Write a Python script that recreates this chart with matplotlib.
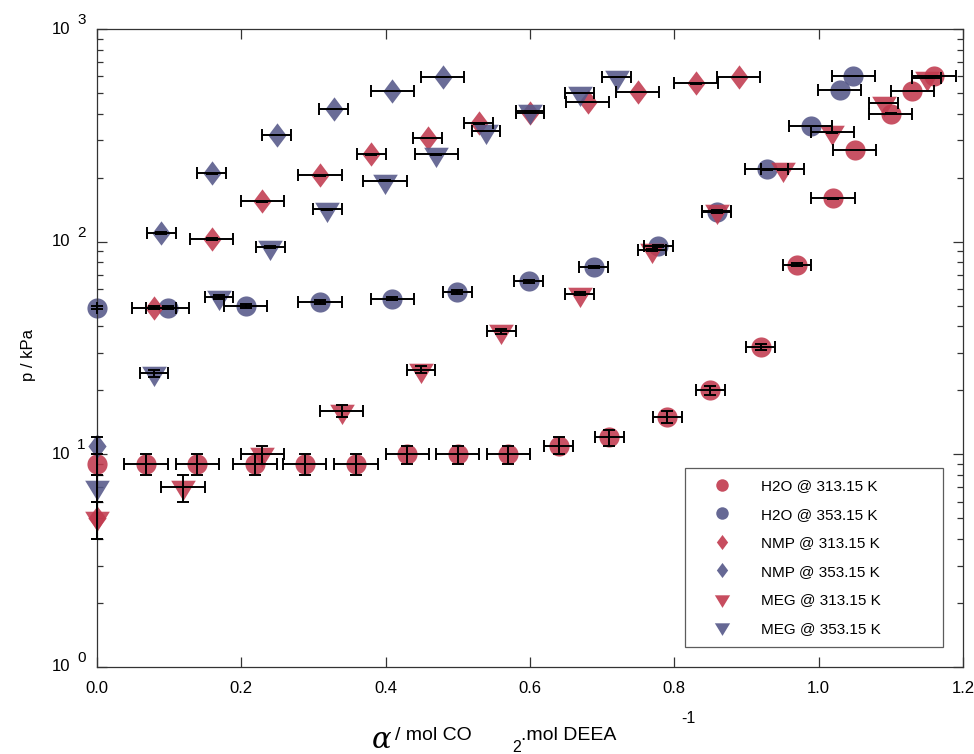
import numpy as np
import matplotlib
matplotlib.use("Agg")
import matplotlib.pyplot as plt
from matplotlib.ticker import FixedLocator, LogLocator, NullFormatter

plt.rcParams['font.family'] = ['Liberation Sans', 'DejaVu Sans']

# ------------ data ------------
h2o_313_x = [0.0, 0.068, 0.139, 0.219, 0.288, 0.359, 0.43, 0.50, 0.57, 0.64,
             0.71, 0.79, 0.85, 0.92, 0.97, 1.02, 1.05, 1.10, 1.13, 1.16]
h2o_313_y = [9, 9, 9, 9, 9, 9, 10, 10, 10, 11, 12, 15, 20, 32, 78, 160, 270, 400, 510, 600]
h2o_313_xerr = [0, .03, .03, .03, .03, .03, .03, .03, .03, .02,
                .02, .02, .02, .02, .02, .03, .03, .03, .03, .03]

h2o_353_x = [0.0, 0.098, 0.206, 0.309, 0.409, 0.499, 0.598, 0.688, 0.778, 0.859,
             0.928, 0.989, 1.029, 1.048]
h2o_353_y = [49, 49, 50, 52, 54, 58, 65, 76, 95, 138, 219, 350, 515, 600]
h2o_353_xerr = [0, .03, .03, .03, .03, .02, .02, .02, .02, .02, .03, .03, .03, .03]

nmp_313_x = [0.0, 0.079, 0.159, 0.229, 0.309, 0.380, 0.458, 0.529, 0.600, 0.680,
             0.749, 0.830, 0.889]
nmp_313_y = [5, 49, 103, 155, 205, 258, 307, 360, 405, 453, 505, 555, 595]
nmp_313_xerr = [0, .03, .03, .03, .03, .02, .02, .02, .02, .03, .03, .03, .03]

nmp_353_x = [0.0, 0.089, 0.159, 0.249, 0.328, 0.409, 0.479]
nmp_353_y = [11, 110, 210, 317, 420, 510, 595]
nmp_353_xerr = [0, .02, .02, .02, .02, .03, .03]

meg_313_x = [0.0, 0.119, 0.229, 0.339, 0.449, 0.560, 0.669, 0.769, 0.859, 0.950,
             1.019, 1.090, 1.150]
meg_313_y = [5, 7, 10, 16, 25, 38, 57, 91, 140, 219, 327, 450, 590]
meg_313_xerr = [0, .03, .03, .03, .02, .02, .02, .02, .02, .03, .03, .02, .02]

meg_353_x = [0.0, 0.079, 0.169, 0.240, 0.319, 0.399, 0.470, 0.539, 0.600, 0.669, 0.720]
meg_353_y = [7, 24, 55, 94, 142, 193, 258, 331, 410, 500, 594]
meg_353_xerr = [0, .02, .02, .02, .02, .03, .03, .02, .02, .02, .02]

y_err = 1.0  # kPa, same for every point

labels = ["H2O @ 313.15 K", "H2O @ 353.15 K", "NMP @ 313.15 K",
          "NMP @ 353.15 K", "MEG @ 313.15 K", "MEG @ 353.15 K"]

RED = '#c13a4e'
BLUE = '#555889'

# marker shapes: diamond a bit taller than wide, triangle centred on its centroid
diamond = [(0, 1), (0.75, 0), (0, -1), (-0.75, 0)]
tri_down = [(-1, 0.55), (1, 0.55), (0, -1.1)]

series = [
    (h2o_313_x, h2o_313_y, h2o_313_xerr, RED, 'o', 14.5),
    (h2o_353_x, h2o_353_y, h2o_353_xerr, BLUE, 'o', 14.5),
    (nmp_313_x, nmp_313_y, nmp_313_xerr, RED, diamond, 17.5),
    (nmp_353_x, nmp_353_y, nmp_353_xerr, BLUE, diamond, 17.5),
    (meg_313_x, meg_313_y, meg_313_xerr, RED, tri_down, 19.5),
    (meg_353_x, meg_353_y, meg_353_xerr, BLUE, tri_down, 19.5),
]

fig = plt.figure(figsize=(9.74, 7.54), dpi=100)
ax = fig.add_axes([0.0996, 0.1154, 0.8891, 0.8461])

for (x, y, xe, col, mk, ms), lab in zip(series, labels):
    ax.plot(x, y, linestyle='none', marker=mk, markersize=ms, color=col,
            markeredgewidth=0, alpha=0.88, label=lab, clip_on=False, zorder=2)

for (x, y, xe, col, mk, ms) in series:
    ax.errorbar(x, y, xerr=xe, yerr=y_err, fmt='none', ecolor='black',
                elinewidth=1.4, capsize=4.5, capthick=1.4, zorder=3, clip_on=False)

ax.set_yscale('log')
ax.set_xlim(0, 1.2)
ax.set_ylim(1, 1000)

ax.xaxis.set_major_locator(FixedLocator([0, 0.2, 0.4, 0.6, 0.8, 1.0, 1.2]))
ax.set_xticklabels(['0.0', '0.2', '0.4', '0.6', '0.8', '1.0', '1.2'], fontsize=12)
ax.yaxis.set_major_locator(FixedLocator([1, 10, 100, 1000]))
ax.yaxis.set_minor_locator(LogLocator(base=10, subs=np.arange(2, 10)))
ax.yaxis.set_major_formatter(NullFormatter())
ax.yaxis.set_minor_formatter(NullFormatter())

ax.tick_params(which='both', direction='in', top=True, right=True,
               color='#333333', width=0.9)
ax.tick_params(which='major', length=7, pad=10)
ax.tick_params(which='minor', length=4)
for sp in ax.spines.values():
    sp.set_color('#333333')
    sp.set_linewidth(0.9)

# MATLAB-style "10 ^n" tick labels
for e in range(4):
    ax.annotate('10', xy=(0, 10 ** e), xycoords=('axes fraction', 'data'),
                xytext=(-27, 0), textcoords='offset pixels',
                ha='right', va='center', fontsize=12)
    ax.annotate(str(e), xy=(0, 10 ** e), xycoords=('axes fraction', 'data'),
                xytext=(-20, 9), textcoords='offset pixels',
                ha='left', va='center', fontsize=11)

fig.text(0.029, 0.529, 'p / kPa', rotation=90, ha='center', va='center', fontsize=12)

# x label pieces (spaced like the original)
fig.text(0.392, 0.018, 'α', fontsize=21, family='DejaVu Serif', style='italic',
         ha='center', va='center')
fig.text(0.406, 0.025, '/ mol CO', fontsize=14, ha='left', va='center')
fig.text(0.530, 0.008, '2', fontsize=11.5, ha='center', va='center')
fig.text(0.535, 0.025, '.mol DEEA', fontsize=14, ha='left', va='center')
fig.text(0.699, 0.047, '-1', fontsize=11.5, ha='left', va='center')

leg = ax.legend(loc='lower left', bbox_to_anchor=(0.679, 0.031, 0.298, 0.304),
                mode='expand', borderaxespad=0, fontsize=11, markerscale=0.62,
                handlelength=3.4, handletextpad=0.85, labelspacing=0.95,
                borderpad=0.75, fancybox=False, frameon=True)
leg.get_frame().set_edgecolor('#333333')
leg.get_frame().set_linewidth(0.9)
for h in leg.legend_handles:
    h.set_alpha(0.9)

fig.savefig('out.png', dpi=100)
